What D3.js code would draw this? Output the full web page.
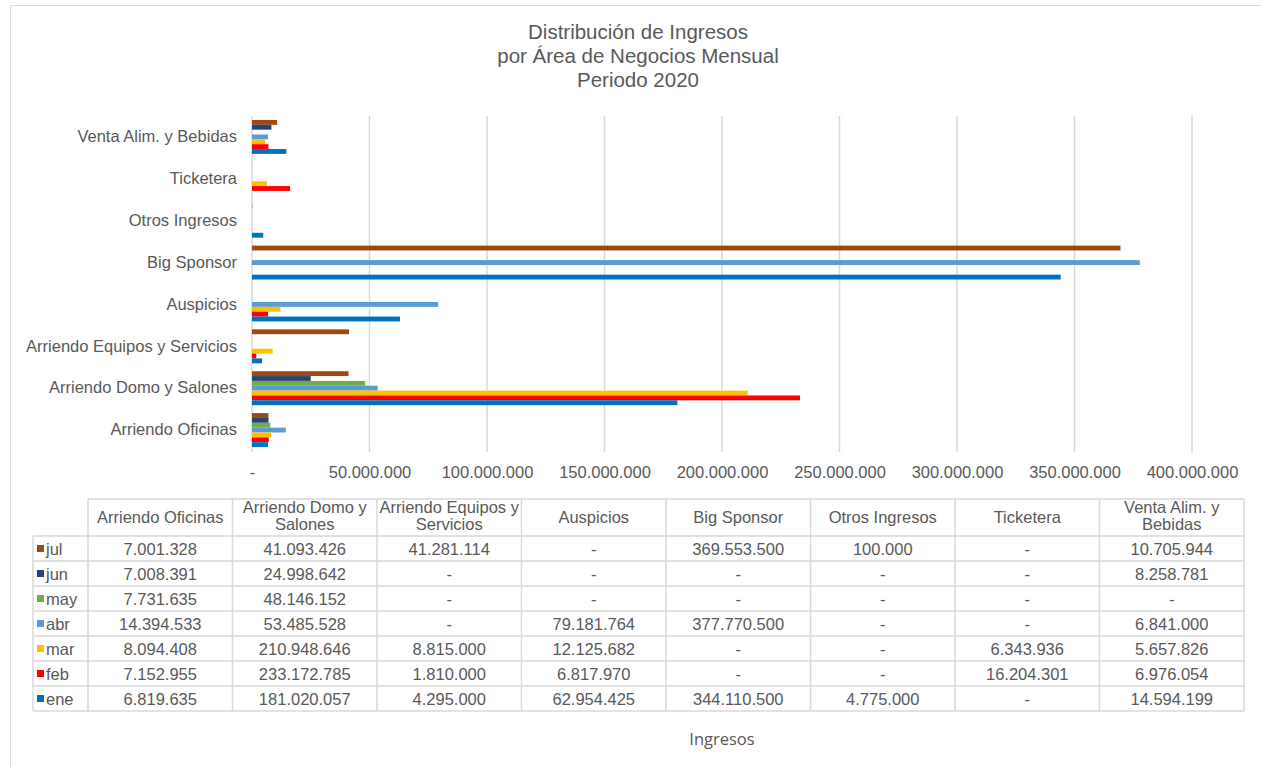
<!DOCTYPE html>
<html><head><meta charset="utf-8">
<script src="https://cdn.jsdelivr.net/npm/d3@7"></script>
<style>
body{margin:0;background:#fff;}
svg{display:block;font-family:"Liberation Sans",Arial,sans-serif;}
</style></head>
<body><svg id="c" width="1261" height="767"></svg>
<script>
const categories = ["Arriendo Oficinas","Arriendo Domo y Salones","Arriendo Equipos y Servicios","Auspicios","Big Sponsor","Otros Ingresos","Ticketera","Venta Alim. y Bebidas"];
const headerLines = [["Arriendo Oficinas"],["Arriendo Domo y","Salones"],["Arriendo Equipos y","Servicios"],["Auspicios"],["Big Sponsor"],["Otros Ingresos"],["Ticketera"],["Venta Alim. y","Bebidas"]];
const months = ["jul","jun","may","abr","mar","feb","ene"];
const colors = ["#9c4a12","#264478","#70ad47","#5b9bd5","#ffc000","#ff0000","#0070c0"];
const jul = [7001328,41093426,41281114,0,369553500,100000,0,10705944];
const jun = [7008391,24998642,0,0,0,0,0,8258781];
const may = [7731635,48146152,0,0,0,0,0,0];
const abr = [14394533,53485528,0,79181764,377770500,0,0,6841000];
const mar = [8094408,210948646,8815000,12125682,0,0,6343936,5657826];
const feb = [7152955,233172785,1810000,6817970,0,0,16204301,6976054];
const ene = [6819635,181020057,4295000,62954425,344110500,4775000,0,14594199];
const series = [jul,jun,may,abr,mar,feb,ene];
const xTicks = [0,50000000,100000000,150000000,200000000,250000000,300000000,350000000,400000000];
const titleLines = ["Distribución de Ingresos","por Área de Negocios Mensual","Periodo 2020"];
const axisTitle = "Ingresos";

const loc = d3.formatLocale({decimal:",",thousands:".",grouping:[3],currency:["$",""]});
const fmt = v => v===0 ? "-" : loc.format(",")(v);

const svg = d3.select("#c");
const txt = "#595959", grid = "#d9d9d9";
const FS = 16.5;

// outer frame
svg.append("rect").attr("x",10.5).attr("y",5.5).attr("width",1300).attr("height",800)
  .attr("fill","none").attr("stroke",grid);

// title
svg.append("g").selectAll("text").data(titleLines).join("text")
  .attr("x",638).attr("y",(d,i)=>39+i*24).attr("text-anchor","middle")
  .attr("font-family","'Liberation Sans Narrow','Arial Narrow',Arial,sans-serif")
  .attr("font-size",20.5).attr("fill",txt).text(d=>d);

const x = d3.scaleLinear().domain([0,400000000]).range([252,1192]);
const y0 = d3.scaleBand().domain(categories).range([451,116]).paddingInner(0.19).paddingOuter(0.095);
const y1 = d3.scaleBand().domain(months).range([0,y0.bandwidth()]);

// gridlines
svg.append("g").selectAll("line").data(xTicks.slice(1)).join("line")
  .attr("x1",d=>x(d)).attr("x2",d=>x(d)).attr("y1",116).attr("y2",452)
  .attr("stroke",grid).attr("stroke-width",1.5);
svg.append("line").attr("x1",x(0)).attr("x2",x(0)).attr("y1",116).attr("y2",452)
  .attr("stroke",grid).attr("stroke-width",1.5);

// bars
const gb = svg.append("g");
categories.forEach((c,ci)=>{
  months.forEach((m,mi)=>{
    const v = series[mi][ci];
    if(v>0) gb.append("rect").attr("x",x(0)).attr("y",y0(c)+y1(m))
      .attr("width",x(v)-x(0)).attr("height",y1.bandwidth()).attr("fill",colors[mi]);
  });
});

// x axis labels
const xa = svg.append("g").attr("transform","translate(0,463)")
  .call(d3.axisBottom(x).tickValues(xTicks).tickFormat(fmt).tickSize(0));
xa.select(".domain").remove();
xa.selectAll("text").attr("fill",txt).attr("font-size",FS).attr("font-family","'Liberation Sans',Arial,sans-serif");

// y axis labels
const ya = svg.append("g").attr("transform","translate(240,0)")
  .call(d3.axisLeft(y0).tickSize(0));
ya.select(".domain").remove();
ya.selectAll("text").attr("fill",txt).attr("font-size",FS).attr("font-family","'Liberation Sans',Arial,sans-serif");

// data table
const colX = d3.scaleLinear().domain([0,8]).range([88,1244]);
const rowTop = 536, rowH = 25, headTop = 499;
const tg = svg.append("g").attr("font-size",FS).attr("fill",txt);
const tl = (x1,y1,x2,y2)=>tg.append("line").attr("x1",x1).attr("y1",y1).attr("x2",x2).attr("y2",y2).attr("stroke",grid).attr("stroke-width",1.5);
tl(88,headTop,1244,headTop);
for(let r=0;r<=months.length;r++) tl(33,rowTop+r*rowH,1244,rowTop+r*rowH);
tl(33,rowTop,33,rowTop+months.length*rowH);
for(let c=0;c<=8;c++) tl(colX(c),headTop,colX(c),rowTop+months.length*rowH);
headerLines.forEach((lines,ci)=>{
  const cx = (colX(ci)+colX(ci+1))/2;
  lines.forEach((l,li)=>{
    tg.append("text").attr("x",cx).attr("text-anchor","middle")
      .attr("y", lines.length===1 ? 523 : 513+li*17).text(l);
  });
});
months.forEach((m,mi)=>{
  const yy = rowTop+mi*rowH;
  tg.append("rect").attr("x",37).attr("y",yy+9).attr("width",7).attr("height",7).attr("fill",colors[mi]);
  tg.append("text").attr("x",46).attr("y",yy+18.5).text(m);
  categories.forEach((c,ci)=>{
    tg.append("text").attr("x",(colX(ci)+colX(ci+1))/2).attr("y",yy+18.5)
      .attr("text-anchor","middle").text(fmt(series[mi][ci]));
  });
});

// axis title
svg.append("text").attr("x",722).attr("y",745).attr("text-anchor","middle")
  .attr("font-family","'Open Sans',sans-serif").attr("font-size",16.5).attr("fill",txt).text(axisTitle);
</script></body></html>
